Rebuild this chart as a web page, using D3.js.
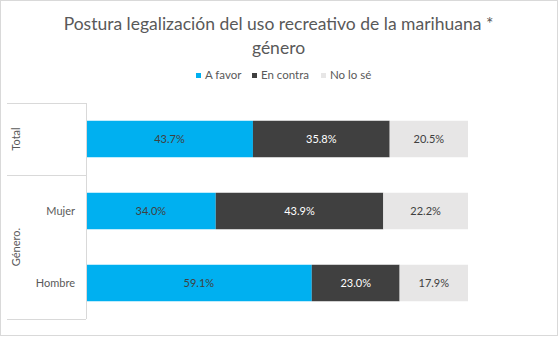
<!DOCTYPE html>
<html>
<head>
<meta charset="utf-8">
<script src="https://cdn.jsdelivr.net/npm/d3@7"></script>
<style>
  body { margin: 0; background: #fff; }
  svg { display: block; }
</style>
</head>
<body>
<div class="container"></div>
<script>
const WIDTH = 559
const HEIGHT = 337

// data
const categories = ['Total', 'Mujer', 'Hombre']
const aFavor = [43.7, 34.0, 59.1]
const enContra = [35.8, 43.9, 23.0]
const noLoSe = [20.5, 22.2, 17.9]
const seriesNames = ['A favor', 'En contra', 'No lo sé']
const seriesColors = ['#00B0F0', '#404040', '#E7E6E6']
const labelColors = ['#404040', '#ffffff', '#404040']
const groups = [
    { name: 'Total', members: ['Total'] },
    { name: 'Género.', members: ['Mujer', 'Hombre'] }
]
const title = ['Postura legalización del uso recreativo de la marihuana *', 'género']

const FONT = 'Lato, "Open Sans", sans-serif'
const margin = { top: 103, right: 91, bottom: 15, left: 86 }

const rows = categories.map((c, i) => ({
    category: c,
    'A favor': aFavor[i],
    'En contra': enContra[i],
    'No lo sé': noLoSe[i]
}))

const stack = d3.stack()
    .keys(seriesNames)
    .offset(d3.stackOffsetExpand)
const stacked = stack(rows)

const x = d3.scaleLinear()
    .domain([0, 1])
    .range([margin.left, WIDTH - margin.right])

const y = d3.scaleBand()
    .domain(categories)
    .range([margin.top, HEIGHT - margin.bottom - 3])
    .paddingInner(0.4932)
    .paddingOuter(0.2466)

const svg = d3.select('.container').append('svg')
    .attr('xmlns', 'http://www.w3.org/2000/svg')
    .attr('width', WIDTH)
    .attr('height', HEIGHT)
    .attr('style', `font-family: ${FONT};`)

// outer border
svg.append('rect')
    .attr('x', 0.5).attr('y', 0.5)
    .attr('width', WIDTH - 2).attr('height', HEIGHT - 2)
    .attr('fill', '#fff')
    .attr('stroke', '#d9d9d9')

// title
svg.append('g')
    .selectAll('text')
    .data(title)
    .join('text')
    .attr('x', WIDTH / 2 - 1)
    .attr('y', (d, i) => 30 + i * 24)
    .attr('text-anchor', 'middle')
    .attr('font-size', 17.5)
    .attr('fill', '#595959')
    .text(d => d)

// legend
const legendX = [196, 252, 321]
const legend = svg.append('g')
    .selectAll('g')
    .data(seriesNames)
    .join('g')
    .attr('transform', (d, i) => `translate(${legendX[i]},71)`)
legend.append('rect')
    .attr('width', 5).attr('height', 5)
    .attr('y', 2)
    .attr('fill', (d, i) => seriesColors[i])
legend.append('text')
    .attr('x', 9)
    .attr('y', 8)
    .attr('font-size', 11.5)
    .attr('fill', '#595959')
    .text(d => d)

// bars
const layer = svg.append('g')
    .selectAll('g')
    .data(stacked)
    .join('g')
    .attr('fill', (d, i) => seriesColors[i])

layer.selectAll('rect')
    .data(d => d)
    .join('rect')
    .attr('x', d => x(d[0]))
    .attr('y', d => y(d.data.category))
    .attr('width', d => x(d[1]) - x(d[0]))
    .attr('height', y.bandwidth())

// data labels
stacked.forEach((s, si) => {
    svg.append('g')
        .selectAll('text')
        .data(s)
        .join('text')
        .attr('x', d => (x(d[0]) + x(d[1])) / 2)
        .attr('y', d => y(d.data.category) + y.bandwidth() / 2 + 4)
        .attr('text-anchor', 'middle')
        .attr('font-size', 11)
        .attr('fill', labelColors[si])
        .text(d => d.data[s.key].toFixed(1) + '%')
})

// category axis with group separators
const axisLeft = 7
const axisRight = margin.left
const plotTop = margin.top
const plotBottom = y.range()[1]
const step = y.step()
const axis = svg.append('g')
    .attr('stroke', '#d9d9d9')
    .attr('fill', 'none')

axis.append('line')
    .attr('x1', axisRight + 0.5).attr('x2', axisRight + 0.5)
    .attr('y1', plotTop).attr('y2', plotBottom)

let offset = 0
const boundaries = [0]
groups.forEach(g => {
    offset += g.members.length
    boundaries.push(offset)
})
axis.selectAll('line.sep')
    .data(boundaries)
    .join('line')
    .attr('class', 'sep')
    .attr('x1', axisLeft).attr('x2', axisRight)
    .attr('y1', d => Math.round(plotTop + d * step) + 0.5)
    .attr('y2', d => Math.round(plotTop + d * step) + 0.5)

// group labels (rotated)
svg.append('g')
    .selectAll('text')
    .data(groups)
    .join('text')
    .attr('transform', g => {
        const i0 = categories.indexOf(g.members[0])
        const cy = plotTop + (i0 + g.members.length / 2) * step
        return `translate(20,${cy}) rotate(-90)`
    })
    .attr('text-anchor', 'middle')
    .attr('font-size', 11)
    .attr('fill', '#595959')
    .text(g => g.name)

// category labels
svg.append('g')
    .selectAll('text')
    .data(categories.filter(c => c !== 'Total'))
    .join('text')
    .attr('x', 75)
    .attr('y', d => y(d) + y.bandwidth() / 2 + 4)
    .attr('text-anchor', 'end')
    .attr('font-size', 11)
    .attr('fill', '#595959')
    .text(d => d)
</script>
</body>
</html>
